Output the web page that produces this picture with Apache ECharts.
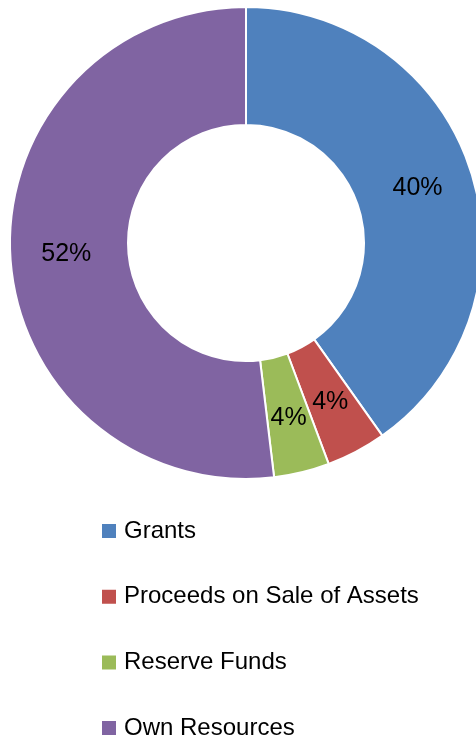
<!DOCTYPE html>
<html>
<head>
<meta charset="utf-8">
<script src="https://cdn.jsdelivr.net/npm/echarts@6/dist/echarts.min.js"></script>
<style>
html, body { margin: 0; padding: 0; background: #fff; }
#pie { width: 476px; height: 740px; }
</style>
</head>
<body>
<div id="pie"></div>
<script>
var categories = ['Grants', 'Proceeds on Sale of Assets', 'Reserve Funds', 'Own Resources'];
var values = [40.2, 4.1, 3.8, 51.9];
var colors = ['#4F81BD', '#C0504D', '#9BBB59', '#8064A2'];

var chartDom = document.getElementById('pie');
var myChart = echarts.init(chartDom);

var dataList = categories.map(function (name, i) {
    return { name: name, value: values[i] };
});

var option = {
    color: colors,
    animation: false,
    legend: {
        orient: 'vertical',
        left: 95,
        top: 514,
        height: 230,
        itemWidth: 16,
        itemHeight: 16,
        itemGap: 41.7,
        icon: 'rect',
        data: categories,
        textStyle: {
            fontFamily: 'Liberation Sans',
            fontSize: 24,
            lineHeight: 24,
            color: '#000',
            padding: [0, 0, 0, 2]
        }
    },
    series: [
        {
            type: 'pie',
            center: [246, 243],
            radius: [118, 236],
            startAngle: 90,
            clockwise: true,
            data: dataList,
            itemStyle: {
                borderColor: '#fff',
                borderWidth: 2
            },
            label: {
                show: true,
                position: 'inside',
                fontFamily: 'Liberation Sans',
                fontSize: 25,
                color: '#000',
                formatter: function (p) {
                    return Math.round(p.percent) + '%';
                }
            },
            labelLine: { show: false },
            emphasis: { disabled: true }
        }
    ]
};

option && myChart.setOption(option);
</script>
</body>
</html>
